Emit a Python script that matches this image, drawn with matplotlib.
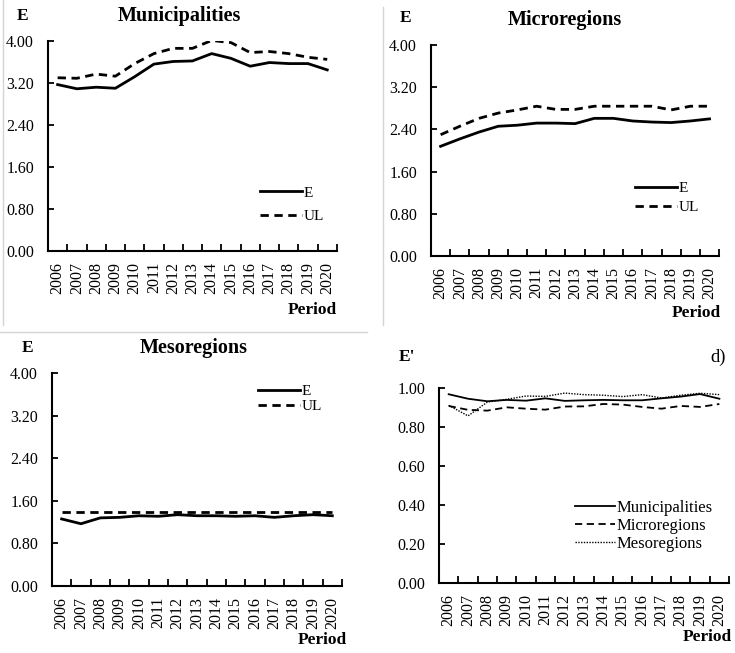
import matplotlib
matplotlib.use("Agg")
import matplotlib.pyplot as plt
from matplotlib.lines import Line2D
import numpy as np

plt.rcParams['font.family'] = ['Liberation Serif', 'DejaVu Serif']

years = [str(y) for y in range(2006, 2021)]

# Municipalities
mun_e = [3.17, 3.09, 3.12, 3.10, 3.32, 3.56, 3.61, 3.62, 3.76, 3.67, 3.52, 3.59, 3.57, 3.57, 3.45]
mun_ul = [3.30, 3.29, 3.37, 3.33, 3.57, 3.76, 3.86, 3.86, 4.01, 3.97, 3.78, 3.80, 3.76, 3.69, 3.65]

# Microregions
mic_e = [2.08, 2.22, 2.35, 2.46, 2.48, 2.52, 2.52, 2.51, 2.61, 2.61, 2.56, 2.54, 2.53, 2.56, 2.60]
mic_ul = [2.30, 2.46, 2.61, 2.71, 2.77, 2.84, 2.78, 2.78, 2.84, 2.84, 2.84, 2.84, 2.77, 2.84, 2.84]

# Mesoregions
mes_e = [1.26, 1.17, 1.28, 1.29, 1.32, 1.31, 1.34, 1.32, 1.32, 1.31, 1.32, 1.29, 1.32, 1.34, 1.32]
mes_ul = [1.39, 1.39, 1.39, 1.39, 1.39, 1.39, 1.39, 1.39, 1.39, 1.39, 1.39, 1.39, 1.39, 1.39, 1.39]

# E' (efficiency ratio)
eff_mun = [0.968, 0.945, 0.932, 0.939, 0.935, 0.947, 0.934, 0.937, 0.939, 0.937, 0.937, 0.947, 0.956, 0.969, 0.945]
eff_mic = [0.908, 0.888, 0.884, 0.901, 0.894, 0.889, 0.905, 0.906, 0.918, 0.915, 0.903, 0.894, 0.908, 0.903, 0.918]
eff_mes = [0.911, 0.857, 0.928, 0.942, 0.959, 0.957, 0.974, 0.966, 0.963, 0.956, 0.966, 0.949, 0.963, 0.973, 0.966]

fig = plt.figure(figsize=(7.35, 6.53), dpi=100)

TICK_FS = 11.5
x = np.arange(len(years))


def style_axis(ax, ymax, step):
    ax.set_xlim(-0.5, len(years) - 0.5)
    ax.set_ylim(0, ymax)
    ax.set_yticks(np.arange(0, ymax + step / 2, step))
    ax.set_yticklabels([f"{v:.2f}" for v in np.arange(0, ymax + step / 2, step)], fontsize=TICK_FS)
    ax.set_xticks(x)
    ax.set_xticklabels(years, rotation=90, fontsize=TICK_FS)
    ax.set_xticks(np.arange(-0.5, len(years), 1.0), minor=True)
    ax.tick_params(axis='x', which='major', length=0, pad=8)
    ax.tick_params(axis='x', which='minor', length=5, width=1.3, direction='in')
    ax.tick_params(axis='y', length=4, width=1.3, direction='in', pad=10)
    for s in ['top', 'right']:
        ax.spines[s].set_visible(False)
    for s in ['left', 'bottom']:
        ax.spines[s].set_linewidth(1.5)


def add_legend(ax, lx, ly, fs=11, spacing=0.3, hl=2.75):
    leg = ax.legend(loc='center left', bbox_to_anchor=(lx, ly), bbox_transform=fig.transFigure,
                    frameon=False, fontsize=fs, handlelength=hl, handletextpad=0.1,
                    labelspacing=spacing, borderpad=0, borderaxespad=0)
    return leg


# panel a
ax1 = fig.add_axes([0.0653, 0.6156, 0.393, 0.3216])
ax1.plot(x, mun_e, color='black', lw=2, label='E')
ax1.plot(x, mun_ul, color='black', lw=2, ls=(0, (3, 2)), label='UL')
style_axis(ax1, 4.0, 0.8)
add_legend(ax1, 0.3537, 0.687, spacing=0.63)
fig.text(0.031, 0.975, 'E', fontsize=12.5, fontweight='bold', ha='center', va='center')
fig.text(0.2435, 0.975, 'Municipalities', fontsize=14.5, fontweight='bold', ha='center', va='center')
fig.text(0.4245, 0.525, 'Period', fontsize=12.5, fontweight='bold', ha='center', va='center')

# panel b
ax2 = fig.add_axes([0.5864, 0.608, 0.392, 0.323])
ax2.plot(x, mic_e, color='black', lw=2, label='E')
ax2.plot(x, mic_ul, color='black', lw=2, ls=(0, (3, 2)), label='UL')
style_axis(ax2, 4.0, 0.8)
add_legend(ax2, 0.864, 0.697, spacing=0.31)
fig.text(0.552, 0.972, 'E', fontsize=12.5, fontweight='bold', ha='center', va='center')
fig.text(0.769, 0.969, 'Microregions', fontsize=14.5, fontweight='bold', ha='center', va='center')
fig.text(0.948, 0.521, 'Period', fontsize=12.5, fontweight='bold', ha='center', va='center')

# panel c
ax3 = fig.add_axes([0.0707, 0.1026, 0.3946, 0.326])
ax3.plot(x, mes_e, color='black', lw=2, label='E')
ax3.plot(x, mes_ul, color='black', lw=2, ls=(0, (3, 2)), label='UL')
style_axis(ax3, 4.0, 0.8)
add_legend(ax3, 0.351, 0.389, spacing=0.08)
fig.text(0.037, 0.467, 'E', fontsize=12.5, fontweight='bold', ha='center', va='center')
fig.text(0.263, 0.467, 'Mesoregions', fontsize=14.5, fontweight='bold', ha='center', va='center')
fig.text(0.438, 0.02, 'Period', fontsize=12.5, fontweight='bold', ha='center', va='center')

# panel d
ax4 = fig.add_axes([0.5973, 0.1072, 0.3946, 0.2986])
ax4.plot(x, eff_mun, color='black', lw=1.3, label='Municipalities')
ax4.plot(x, eff_mic, color='black', lw=1.3, ls=(0, (4, 2.5)), label='Microregions')
ax4.plot(x, eff_mes, color='black', lw=1.0, ls=(0, (1, 1)), label='Mesoregions')
style_axis(ax4, 1.0, 0.2)
add_legend(ax4, 0.782, 0.1945, fs=12, spacing=0.14, hl=2.4)
fig.text(0.554, 0.453, "E'", fontsize=12.5, fontweight='bold', ha='center', va='center')
fig.text(0.977, 0.453, 'd)', fontsize=13.5, ha='center', va='center')
fig.text(0.963, 0.0245, 'Period', fontsize=12.5, fontweight='bold', ha='center', va='center')

# light separator lines
sep = '#d4d4d4'
fig.add_artist(Line2D([0.004, 0.004], [1.0, 0.502], color=sep, lw=1))
fig.add_artist(Line2D([0.521, 0.521], [0.99, 0.502], color=sep, lw=1))
fig.add_artist(Line2D([0.0, 0.499], [0.492, 0.492], color=sep, lw=1))

fig.savefig('out.png', dpi=100)
